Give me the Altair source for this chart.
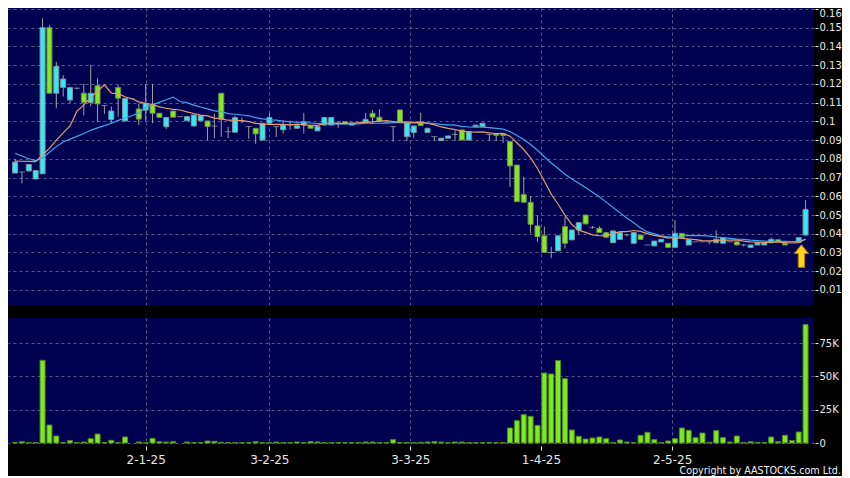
import altair as alt
import pandas as pd

# ---- candle data (index order, oldest first) ----
opens = [.0724,.0730,.0735,.0692,.0720,.1500,.1150,.1181,.1114,.1177,
         .1150,.1101,.1190,.1084,.1010,.1180,.1002,.1120,.1066,.1060,
         .1090,.1043,.0971,.1055,.1025,.1003,.0975,.1003,.1002,.0975,
         .1150,.0945,.0942,.1002,.0972,.0963,.0900,.0990,.0972,.0955,
         .0980,.0963,.0980,.0977,.0949,.0980,.0980,.0995,.0998,.0980,
         .0995,.0995,.1043,.1022,.0995,.0972,.1061,.0918,.0940,.0998,
         .0940,.0918,.0897,.0910,.0930,.0954,.0900,.0972,.0972,.0930,
         .0934,.0934,.0892,.0767,.0610,.0568,.0442,.0389,.0300,.0309,
         .0438,.0367,.0420,.0500,.0434,.0429,.0406,.0352,.0370,.0394,
         .0349,.0393,.0340,.0335,.0356,.0349,.0327,.0402,.0340,.0357,
         .0357,.0357,.0352,.0349,.0357,.0357,.0340,.0327,.0340,.0340,
         .0352,.0368,.0349,.0357,.0354,.0393]
highs = [.0800,.0730,.0770,.0737,.1550,.1514,.1318,.1247,.1185,.1180,
         .1200,.1300,.1230,.1084,.1080,.1195,.1123,.1120,.1095,.1200,
         .1200,.1043,.1021,.1055,.1025,.1025,.1034,.1030,.1002,.1040,
         .1150,.0970,.1030,.1020,.0972,.0963,.0990,.1045,.0972,.1005,
         .1005,.0977,.1045,.0977,.0972,.1020,.1020,.0995,.0998,.0990,
         .0995,.1045,.1060,.1065,.0995,.0972,.1061,.0995,.0975,.1045,
         .0963,.0918,.0910,.0922,.0950,.0954,.0945,.0980,.0990,.0930,
         .0934,.0934,.0892,.0767,.0703,.0600,.0497,.0438,.0331,.0389,
         .0491,.0420,.0459,.0500,.0441,.0441,.0406,.0415,.0406,.0399,
         .0406,.0393,.0340,.0361,.0370,.0349,.0473,.0402,.0370,.0357,
         .0357,.0357,.0418,.0379,.0357,.0357,.0345,.0340,.0352,.0352,
         .0380,.0368,.0349,.0357,.0379,.0580]
lows = [.0724,.0670,.0735,.0692,.0720,.1150,.1070,.1132,.1096,.1170,
        .1032,.1080,.1000,.1040,.0990,.1025,.1000,.1120,.0980,.1000,
        .0990,.1021,.0960,.1022,.1025,.1003,.0975,.1003,.0900,.0910,
        .0918,.0910,.0942,.0990,.0906,.0880,.0900,.0990,.0917,.0935,
        .0955,.0963,.0935,.0963,.0949,.0980,.0980,.0965,.0986,.0980,
        .0995,.0995,.0985,.0995,.0995,.0892,.0995,.0895,.0912,.0977,
        .0940,.0895,.0897,.0910,.0895,.0900,.0900,.0972,.0972,.0895,
        .0895,.0885,.0650,.0571,.0568,.0402,.0358,.0300,.0269,.0309,
        .0322,.0367,.0400,.0452,.0427,.0406,.0381,.0352,.0370,.0386,
        .0349,.0370,.0340,.0335,.0356,.0327,.0327,.0378,.0340,.0357,
        .0357,.0345,.0352,.0349,.0357,.0340,.0332,.0327,.0340,.0340,
        .0352,.0357,.0340,.0357,.0354,.0393]
closes = [.0782,.0730,.0770,.0737,.1500,.1150,.1292,.1226,.1180,.1177,
          .1101,.1150,.1093,.1084,.1055,.1123,.1123,.1120,.1012,.1096,
          .1043,.1021,.1021,.1022,.1025,.1025,.1034,.1030,.0972,.0975,
          .1011,.0945,.1020,.1002,.0972,.0933,.0990,.1020,.0972,.0980,
          .0980,.0977,.0998,.0963,.0972,.1020,.1020,.0995,.0986,.0990,
          .0995,.1010,.1022,.1000,.0995,.0972,.0995,.0995,.0975,.0977,
          .0963,.0918,.0910,.0922,.0930,.0900,.0945,.0980,.0990,.0930,
          .0925,.0925,.0762,.0571,.0568,.0450,.0384,.0300,.0300,.0389,
          .0349,.0420,.0459,.0452,.0434,.0406,.0381,.0415,.0406,.0394,
          .0406,.0370,.0340,.0361,.0370,.0327,.0402,.0378,.0370,.0357,
          .0357,.0357,.0370,.0379,.0357,.0340,.0340,.0340,.0352,.0352,
          .0370,.0357,.0340,.0357,.0379,.0530]
volumes_k = [0.5,1.0,0.3,0.3,62,13.5,5.25,0.3,1.75,0.3,
             0.75,3.25,6.75,0.3,2.0,0.3,4.5,0,0.75,0.3,
             3.5,1.0,0.75,1.0,0,0.75,0.3,0.3,1.5,1.25,
             0.5,0.25,0.3,0.3,0.3,1.0,0.3,0.3,0.75,0.3,
             0.3,0.75,0.3,1.0,0.75,0.3,0.3,0.3,0.3,0.3,
             0.3,0.75,0.75,0.3,0.3,2.5,0.3,0.3,0.3,0.5,
             0.75,1.0,0.75,0.3,0.75,0.75,0.3,0.3,0.3,0.5,
             0.3,0.3,11.25,16.75,21.25,20,13.25,52.5,51.75,61.75,
             48.25,9.75,5.0,3.0,3.75,4.5,3.25,0.3,2.25,0.75,
             0.3,5.75,8.0,2.5,0.3,1.5,3.25,11.25,9.5,4.0,
             7.5,0.5,9.25,4.0,0.75,5.25,0.3,1.0,0.5,0.3,
             4.5,1.0,5.75,1.75,8.25,88.75]

# moving-average values at the start (window reaches before the first candle)
ma10_head = [.0788,.0787,.0786,.0785,.0820,.0856,.0900,.0938,.0975]
ma20_head = [.0830,.0815,.0800,.0790,.0805,.0835,.0865,.0890,.0905,.0920,
             .0935,.0952,.0965,.0977,.0990,.1005,.1018,.1030,.1045]

tick_pos = [19, 37, 57.5, 76.5, 95.6]
tick_labels = ["2-1-25", "3-2-25", "3-3-25", "1-4-25", "2-5-25"]
price_ticks = [round(0.01 * k, 2) for k in range(1, 17)]
vol_ticks = [0, 25, 50, 75]
arrow_idx = [114.4]
arrow_price = [0.0281]
copyright = "Copyright by AASTOCKS.com Ltd."

n = len(closes)
df = pd.DataFrame({
    "i": list(range(n)), "o": opens, "h": highs, "l": lows, "c": closes, "v": volumes_k,
    "ma10h": ma10_head + [None] * (n - len(ma10_head)),
    "ma20h": ma20_head + [None] * (n - len(ma20_head)),
})

NAVY = "#000050"
CYAN = "#3ae6f4"
LIME = "#86e62a"
GRID = "#5a5a8e"
LBL = "#e8e8e8"
FONT = "DejaVu Sans"

W = 806
HP = 297
HV = 125

xscale = alt.Scale(domain=[-0.3, 115.5], nice=False, zero=False)
yscale = alt.Scale(domain=[0.00196, 0.1605], nice=False, zero=False)
vscale = alt.Scale(domain=[0, 93.75], nice=False, zero=False)

label_expr = " : ".join(
    f"datum.value == {p} ? '{t}'" for p, t in zip(tick_pos, tick_labels)
) + " : ''"

x_price = alt.X("i:Q", scale=xscale, title=None,
                axis=alt.Axis(values=tick_pos, labels=False, ticks=False, domain=False,
                              grid=True, gridColor=GRID, gridDash=[3, 3]))
y_axis_price = alt.Axis(orient="right", values=price_ticks, format=".2~f", grid=True,
                        gridColor=GRID, gridDash=[3, 3], domain=False, offset=1,
                        tickSize=3, tickColor=LBL, labelPadding=1, labelColor=LBL,
                        labelFont=FONT, labelFontSize=10, labelOverlap=False,
                        labelFlush=3, title=None)

base = alt.Chart(df).transform_calculate(
    dir="datum.c > datum.o ? 'up' : (datum.c < datum.o ? 'down' : 'flat')"
)

wick = base.mark_rule(color="#a0a0a0", strokeWidth=1).encode(
    x=x_price, y=alt.Y("l:Q", scale=yscale, axis=y_axis_price), y2="h:Q")

body_up = base.transform_filter("datum.dir == 'up'").mark_bar(
    size=5, fill=CYAN, stroke="#7d959c", strokeWidth=1).encode(
    x=x_price, y=alt.Y("o:Q", scale=yscale, axis=y_axis_price), y2="c:Q")
body_dn = base.transform_filter("datum.dir == 'down'").mark_bar(
    size=5, fill=LIME, stroke="#6c8f4a", strokeWidth=1).encode(
    x=x_price, y=alt.Y("o:Q", scale=yscale, axis=y_axis_price), y2="c:Q")
doji = base.transform_filter("datum.dir == 'flat'").mark_tick(
    orient="horizontal", size=6, thickness=1, color="#a8a8a8").encode(
    x=x_price, y=alt.Y("c:Q", scale=yscale, axis=y_axis_price))

ma_base = alt.Chart(df).transform_window(
    ma10c="mean(c)", frame=[-9, 0], sort=[alt.SortField("i")]
).transform_window(
    ma20c="mean(c)", frame=[-19, 0], sort=[alt.SortField("i")]
).transform_calculate(
    ma10="isValid(datum.ma10h) ? datum.ma10h : datum.ma10c",
    ma20="isValid(datum.ma20h) ? datum.ma20h : datum.ma20c",
)
ma20_line = ma_base.mark_line(color="#3ea6ea", strokeWidth=1.2).encode(
    x=x_price, y=alt.Y("ma20:Q", scale=yscale, axis=y_axis_price))
ma10_line = ma_base.mark_line(color="#e39a6c", strokeWidth=1.2).encode(
    x=x_price, y=alt.Y("ma10:Q", scale=yscale, axis=y_axis_price))

arrow_df = pd.DataFrame({"i": arrow_idx, "p": arrow_price})
arrow = alt.Chart(arrow_df).mark_point(
    shape="M0,-1.6 L1,-0.35 L0.45,-0.35 L0.45,1.6 L-0.45,1.6 L-0.45,-0.35 L-1,-0.35 Z",
    filled=True, fill="#ffd21f", stroke="#b87800", strokeWidth=1, size=200, opacity=1
).encode(x=x_price, y=alt.Y("p:Q", scale=yscale, axis=y_axis_price))

price = alt.layer(wick, body_up, body_dn, doji, ma20_line, ma10_line, arrow).properties(
    width=W, height=HP)

x_vol = alt.X("i:Q", scale=xscale, title=None,
              axis=alt.Axis(values=tick_pos, labelExpr=label_expr, grid=True, gridColor=GRID,
                            gridDash=[3, 3], domain=False, ticks=True, tickSize=4,
                            tickColor=LBL, offset=3, labelPadding=4, labelColor=LBL,
                            labelFont=FONT, labelFontSize=12, labelFlush=False,
                            labelOverlap=False))
vol_bars = alt.Chart(df).transform_filter("datum.v > 0").mark_bar(
    size=5, fill="#80e820", stroke="#4f8a1c", strokeWidth=1).encode(
    x=x_vol,
    y=alt.Y("v:Q", scale=vscale, title=None,
            axis=alt.Axis(orient="right", values=vol_ticks,
                          labelExpr="datum.value == 0 ? '0' : datum.value + 'K'",
                          grid=True, gridColor=GRID, gridDash=[3, 3], domain=False,
                          offset=1, tickSize=3, tickColor=LBL, labelPadding=1,
                          labelColor=LBL, labelFont=FONT, labelFontSize=10,
                          labelOverlap=False)),
    y2=alt.datum(0),
)
copy_txt = alt.Chart(pd.DataFrame({"t": [copyright]})).mark_text(
    align="right", baseline="middle", color="#f0f0f0", font=FONT, fontSize=9.6
).encode(x=alt.value(W + 27), y=alt.value(HV + 28), text="t:N")

volume = alt.layer(vol_bars, copy_txt).properties(width=W, height=HV)

chart = alt.vconcat(price, volume, spacing=13).properties(
    padding=0, background="black"
).configure_view(fill=NAVY, stroke=None).configure_axis(labelOverlap=False)

chart.save("out.html", embed_options={"renderer": "svg", "actions": False})
